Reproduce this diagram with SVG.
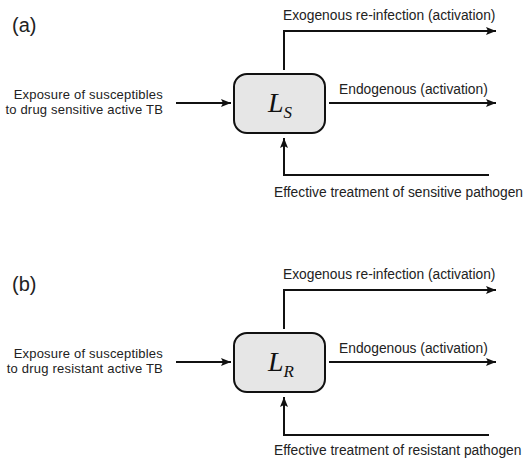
<svg xmlns="http://www.w3.org/2000/svg" width="527" height="460" viewBox="0 0 527 460">
<defs>
<marker id="ah" viewBox="0 0 10 10" refX="10" refY="5" markerWidth="10" markerHeight="10" markerUnits="userSpaceOnUse" orient="auto">
<path d="M0,1 L10,5 L0,9 L2,5 Z" fill="#111"/>
</marker>
</defs>
<style>
.t{font-family:"Liberation Sans",Arial,sans-serif;font-size:13.8px;fill:#222}
.l{font-family:"Liberation Sans",Arial,sans-serif;font-size:13px;fill:#222;letter-spacing:0.2px}
.p{font-family:"Liberation Sans",Arial,sans-serif;font-size:20px;fill:#222}
.box{fill:#e6e6e6;stroke:#111;stroke-width:2}
.c{fill:none;stroke:#111;stroke-width:2}
.m{font-family:"Liberation Serif",serif;font-style:italic;fill:#111}
</style>
<g id="label-a"><text class="p" x="12" y="32">(a)</text></g>
<g id="label-b"><text class="p" x="12" y="291">(b)</text></g>

<g id="node-LS">
<rect class="box" x="234" y="74" width="91" height="59" rx="13"/>
<text class="m" x="268" y="112" font-size="28">L<tspan font-size="17" dy="6">S</tspan></text>
</g>
<g id="node-LR">
<rect class="box" x="234" y="333" width="91" height="59" rx="13"/>
<text class="m" x="268" y="371" font-size="28">L<tspan font-size="17" dy="6">R</tspan></text>
</g>

<g id="connectors">
<path class="c" marker-end="url(#ah)" d="M176,103 H231"/>
<path class="c" marker-end="url(#ah)" d="M284,70 V31 H496"/>
<path class="c" marker-end="url(#ah)" d="M329,103 H496"/>
<path class="c" marker-end="url(#ah)" d="M489,175 H284 V138"/>
<path class="c" marker-end="url(#ah)" d="M176,362 H231"/>
<path class="c" marker-end="url(#ah)" d="M284,329 V290 H496"/>
<path class="c" marker-end="url(#ah)" d="M329,362 H496"/>
<path class="c" marker-end="url(#ah)" d="M489,435 H284 V397"/>
</g>

<g id="texts-a">
<text class="l" text-anchor="end"><tspan x="163" y="99">Exposure of susceptibles</tspan><tspan x="163" y="114">to drug sensitive active TB</tspan></text>
<text class="t" x="283" y="20">Exogenous re-infection (activation)</text>
<text class="t" x="339" y="94">Endogenous (activation)</text>
<text class="t" x="274" y="197">Effective treatment of sensitive pathogen</text>
</g>
<g id="texts-b">
<text class="l" text-anchor="end"><tspan x="163" y="358">Exposure of susceptibles</tspan><tspan x="163" y="373">to drug resistant active TB</tspan></text>
<text class="t" x="283" y="279">Exogenous re-infection (activation)</text>
<text class="t" x="339" y="353">Endogenous (activation)</text>
<text class="t" x="274" y="455">Effective treatment of resistant pathogen</text>
</g>
</svg>
